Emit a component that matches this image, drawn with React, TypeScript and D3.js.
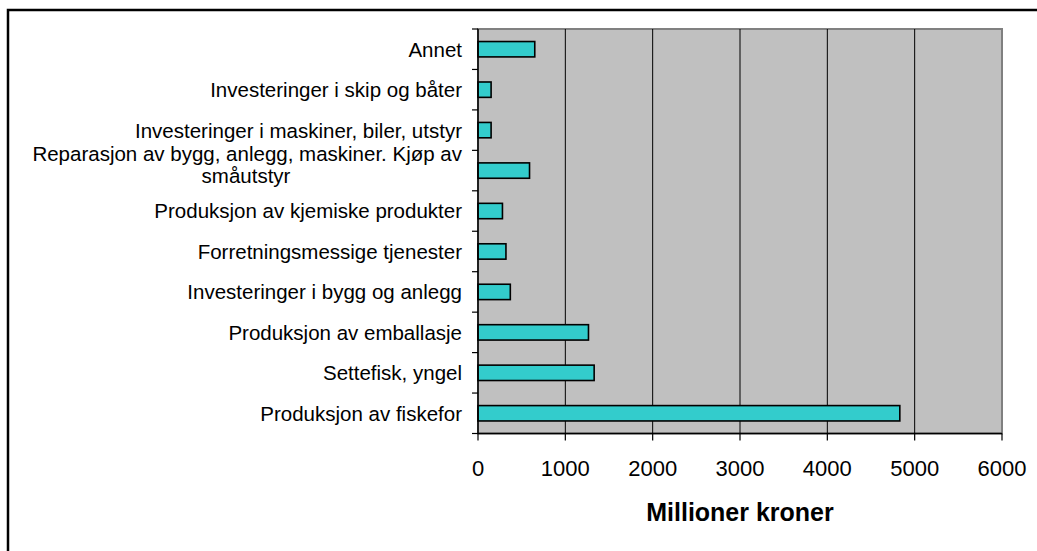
import React, {useRef, useEffect} from 'react';
import * as d3 from 'd3';

// kategorier fra topp til bunn
const categories: string[][] = [
    ['Annet'],
    ['Investeringer i skip og båter'],
    ['Investeringer i maskiner, biler, utstyr'],
    ['Reparasjon av bygg, anlegg, maskiner. Kjøp av', 'småutstyr'],
    ['Produksjon av kjemiske produkter'],
    ['Forretningsmessige tjenester'],
    ['Investeringer i bygg og anlegg'],
    ['Produksjon av emballasje'],
    ['Settefisk, yngel'],
    ['Produksjon av fiskefor'],
];
const values: number[] = [650, 150, 150, 590, 280, 320, 370, 1265, 1330, 4830];
const xTicks: number[] = [0, 1000, 2000, 3000, 4000, 5000, 6000];
const xTitle = 'Millioner kroner';

const W = 1037;
const H = 551;
const FONT = '"Liberation Sans", Arial, sans-serif';

const App: React.FC = () => {
    const svgRef = useRef<SVGSVGElement>(null);

    useEffect(() => {
        if (!svgRef.current) return;
        const svg = d3.select(svgRef.current);
        svg.selectAll('*').remove();

        const left = 478, right = 1002, top = 29, bottom = 433.5;

        const x = d3.scaleLinear().domain([0, 6000]).range([left, right]);
        const y = d3.scaleBand<number>()
            .domain(d3.range(categories.length))
            .range([top, bottom])
            .paddingInner(0.62)
            .paddingOuter(0.31);
        const step = (bottom - top) / categories.length;

        // ytre ramme
        svg.append('rect')
            .attr('x', 8).attr('y', 10)
            .attr('width', W + 20).attr('height', H + 20)
            .attr('fill', '#fff')
            .attr('stroke', '#000')
            .attr('stroke-width', 2.5);

        // plottområde
        svg.append('rect')
            .attr('x', left).attr('y', top)
            .attr('width', right - left).attr('height', bottom - top)
            .attr('fill', '#C0C0C0')
            .attr('stroke', '#808080')
            .attr('stroke-width', 2);

        // rutenett
        svg.append('g')
            .selectAll('line')
            .data(xTicks.slice(1, -1))
            .join('line')
            .attr('x1', d => x(d)).attr('x2', d => x(d))
            .attr('y1', top).attr('y2', bottom)
            .attr('stroke', '#000')
            .attr('stroke-width', 1);

        // søyler
        svg.append('g')
            .selectAll('rect')
            .data(values)
            .join('rect')
            .attr('x', x(0))
            .attr('y', (_, i) => y(i) as number)
            .attr('width', d => x(d) - x(0))
            .attr('height', y.bandwidth())
            .attr('fill', '#33CCCC')
            .attr('stroke', '#000')
            .attr('stroke-width', 1.6);

        // akser
        svg.append('line')
            .attr('x1', left).attr('x2', left)
            .attr('y1', top).attr('y2', bottom)
            .attr('stroke', '#000').attr('stroke-width', 1.5);
        svg.append('line')
            .attr('x1', left).attr('x2', right)
            .attr('y1', bottom).attr('y2', bottom)
            .attr('stroke', '#000').attr('stroke-width', 1.5);

        // y-tick
        svg.append('g')
            .selectAll('line')
            .data(d3.range(categories.length + 1))
            .join('line')
            .attr('x1', left - 6).attr('x2', left)
            .attr('y1', d => top + d * step).attr('y2', d => top + d * step)
            .attr('stroke', '#000').attr('stroke-width', 1.2);

        // x-tick
        svg.append('g')
            .selectAll('line')
            .data(xTicks)
            .join('line')
            .attr('x1', d => x(d)).attr('x2', d => x(d))
            .attr('y1', bottom).attr('y2', bottom + 7)
            .attr('stroke', '#000').attr('stroke-width', 1.2);

        // x-etiketter
        svg.append('g')
            .selectAll('text')
            .data(xTicks)
            .join('text')
            .attr('x', d => x(d))
            .attr('y', 476)
            .attr('text-anchor', 'middle')
            .style('font-family', FONT)
            .style('font-size', '22px')
            .text(d => d);

        // kategorietiketter
        const labelX = 462;
        categories.forEach((lines, i) => {
            const cy = (y(i) as number) + y.bandwidth() / 2;
            if (lines.length === 1) {
                svg.append('text')
                    .attr('x', labelX)
                    .attr('y', cy)
                    .attr('dy', '0.36em')
                    .attr('text-anchor', 'end')
                    .style('font-family', FONT)
                    .style('font-size', '20.5px')
                    .text(lines[0]);
            } else {
                svg.append('text')
                    .attr('x', labelX)
                    .attr('y', cy - 10)
                    .attr('text-anchor', 'end')
                    .style('font-family', FONT)
                    .style('font-size', '20.5px')
                    .text(lines[0]);
                svg.append('text')
                    .attr('x', labelX - 216)
                    .attr('y', cy + 12.5)
                    .attr('text-anchor', 'middle')
                    .style('font-family', FONT)
                    .style('font-size', '20.5px')
                    .text(lines[1]);
            }
        });

        // aksetittel
        svg.append('text')
            .attr('x', (left + right) / 2)
            .attr('y', 521)
            .attr('text-anchor', 'middle')
            .style('font-family', FONT)
            .style('font-size', '25px')
            .style('font-weight', 'bold')
            .text(xTitle);
    }, []);

    return (
        <svg
            ref={svgRef}
            width={W}
            height={H}
            viewBox={`0 0 ${W} ${H}`}
            style={{position: 'absolute', left: 0, top: 0, display: 'block'}}
        />
    );
};

export default App;
